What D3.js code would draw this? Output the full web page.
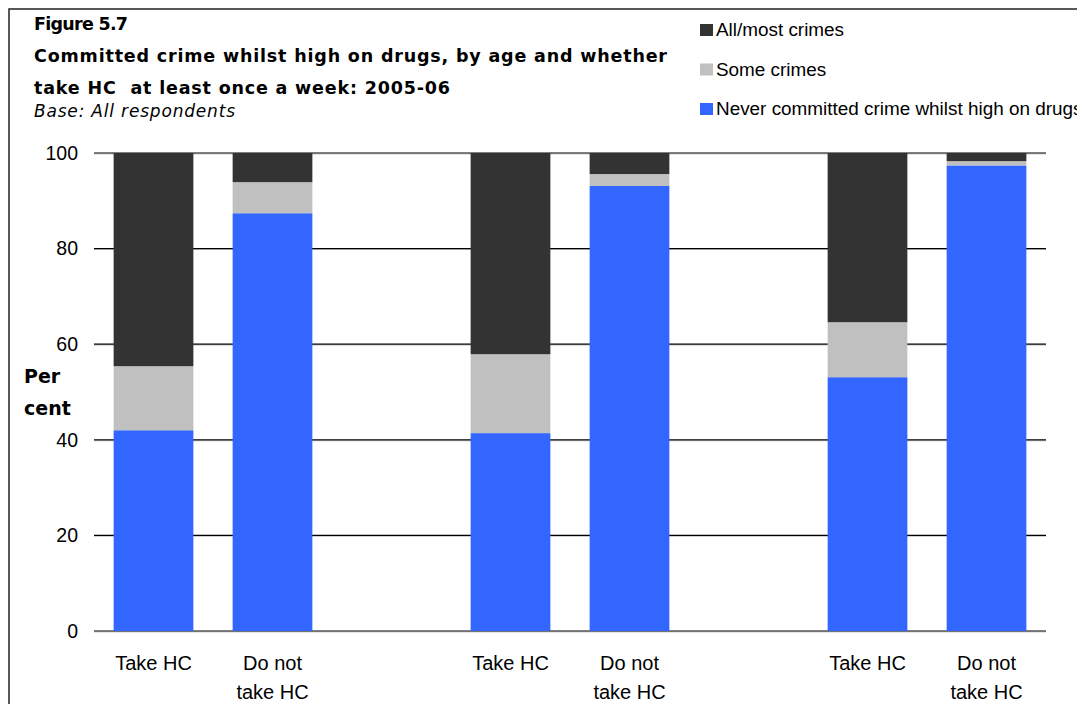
<!DOCTYPE html>
<html><head><meta charset="utf-8">
<script src="https://cdn.jsdelivr.net/npm/d3@7"></script>
<style>body{margin:0;background:#fff;}svg{display:block;}</style>
</head><body>
<svg id="c" width="1077" height="704"></svg>
<script>
const categories = ["Take HC","Do not take HC","","Take HC","Do not take HC","","Take HC","Do not take HC"];
const seriesNames = ["Never committed crime whilst high on drugs","Some crimes","All/most crimes"];
const never = [42.0, 87.4, null, 41.4, 93.1, null, 53.1, 97.4];
const some  = [13.4, 6.5, null, 16.5, 2.5, null, 11.5, 0.9];
const most  = [44.6, 6.1, null, 42.1, 4.4, null, 35.4, 1.7];
const yTicks = [0,20,40,60,80,100];
const colors = ["#3366FF","#C0C0C0","#333333"];
const legendOrder = [2,1,0];

(function(){
const svg = d3.select("#c");
const W = 1077, H = 704;
const pl = 94, pr = 1046, pt = 153, pb = 631;
const sans = "Liberation Sans, Arial, sans-serif";
const tf = "DejaVu Sans, Verdana, sans-serif";

svg.append("path").attr("d",`M9,${H} L9,9 L${W},9`).attr("fill","none").attr("stroke","#222").attr("stroke-width",1.5);

const x = d3.scaleBand().domain(d3.range(categories.length)).range([pl,pr]).paddingInner(0.33).paddingOuter(0.165);
const y = d3.scaleLinear().domain([0,100]).range([pb,pt]);

const g = svg.append("g");
yTicks.forEach(t=>{
  g.append("line").attr("x1",pl).attr("x2",pr).attr("y1",y(t)+1).attr("y2",y(t)+1).attr("stroke","#ccc").attr("stroke-width",1);
  g.append("line").attr("x1",pl).attr("x2",pr).attr("y1",y(t)).attr("y2",y(t)).attr("stroke","#000").attr("stroke-width",1.2);
});

const ya = svg.append("g").attr("transform",`translate(${pl},0)`).call(d3.axisLeft(y).tickValues(yTicks).tickSize(0).tickPadding(16));
ya.select(".domain").remove();
ya.selectAll("text").attr("font-family",sans).attr("font-size",19.5).attr("fill","#000");

const data = categories.map((c,i)=>({i, vals:[never[i],some[i],most[i]]})).filter(d=>d.vals[0]!==null);
data.forEach(d=>{
  let acc = 0;
  d.vals.forEach((v,k)=>{
    svg.append("rect").attr("x",x(d.i)).attr("width",x.bandwidth())
      .attr("y",y(acc+v)).attr("height",y(acc)-y(acc+v)).attr("fill",colors[k]);
    acc += v;
  });
});

categories.forEach((c,i)=>{
  if(!c) return;
  const t = svg.append("text").attr("text-anchor","middle").attr("font-family",sans).attr("font-size",20).attr("fill","#000");
  const cx = x(i)+x.bandwidth()/2;
  if(c==="Do not take HC"){
    t.append("tspan").attr("x",cx).attr("y",670).text("Do not");
    t.append("tspan").attr("x",cx).attr("y",699).text("take HC");
  } else {
    t.append("tspan").attr("x",cx).attr("y",670).text(c);
  }
});

const pc = svg.append("text").attr("font-family",tf).attr("font-weight","bold").attr("font-size",19).attr("fill","#000");
pc.append("tspan").attr("x",24).attr("y",383).text("Per");
pc.append("tspan").attr("x",24).attr("y",415).text("cent");

svg.append("text").attr("x",34).attr("y",30).attr("font-family",tf).attr("font-weight","bold").attr("font-size",17.5)
  .attr("textLength",94).attr("lengthAdjust","spacing").text("Figure 5.7");
svg.append("text").attr("x",34).attr("y",62).attr("font-family",tf).attr("font-weight","bold").attr("font-size",17.5)
  .attr("textLength",633).attr("lengthAdjust","spacing").text("Committed crime whilst high on drugs, by age and whether");
svg.append("text").attr("x",34).attr("y",94).attr("font-family",tf).attr("font-weight","bold").attr("font-size",17.5)
  .attr("textLength",416).attr("lengthAdjust","spacing").attr("xml:space","preserve").text("take HC  at least once a week: 2005-06");
svg.append("text").attr("x",34).attr("y",117).attr("font-family",tf).attr("font-style","italic").attr("font-size",17)
  .attr("textLength",201).attr("lengthAdjust","spacing").text("Base: All respondents");

const lg = svg.append("g");
legendOrder.forEach((k,j)=>{
  const ly = 36 + j*39.5;
  lg.append("rect").attr("x",700).attr("y",ly-12).attr("width",13).attr("height",12).attr("fill",colors[k]);
  lg.append("text").attr("x",716).attr("y",ly).attr("font-family",sans).attr("font-size",18.9).attr("fill","#000").text(seriesNames[k]);
});
})();
</script>
</body></html>
